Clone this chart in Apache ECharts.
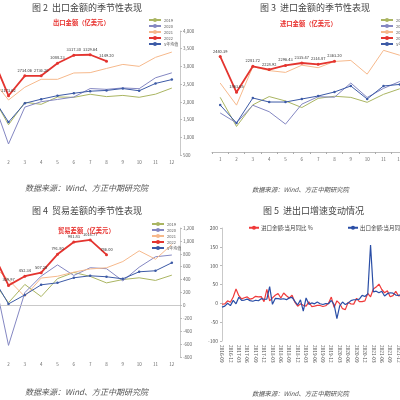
<!DOCTYPE html>
<html>
<head>
<meta charset="utf-8">
<script src="https://cdn.jsdelivr.net/npm/echarts@6/dist/echarts.min.js"></script>
<style>html,body{margin:0;padding:0;background:#fff}#main{width:400px;height:400px}</style>
</head>
<body>
<div id="main"></div>
<script>
// 月份（季节性图）
var months = ['1', '2', '3', '4', '5', '6', '7', '8', '9', '10', '11', '12'];
var yearNames = ['2019', '2020', '2021', '2022', '5年均值'];

// 图2 出口金额（亿美元）
var exp2019 = [2179, 1354, 1986, 1931, 2138, 2128, 2215, 2148, 2182, 2129, 2217, 2389];
var exp2020 = [2113, 811, 1852, 2004, 2068, 2136, 2376, 2353, 2393, 2372, 2680, 2819];
var exp2021 = [2638, 2052, 2413, 2637, 2636, 2815, 2825, 2943, 3057, 3002, 3256, 3405];
var exp2022 = [3273.60, 2173.62, 2734.06, 2736.20, 3088.23, 3317.30, 3329.64, 3149.20];
var expAvg = [2151, 1428, 1959, 2075, 2175, 2243, 2301, 2322, 2376, 2313, 2520, 2629];

// 图3 进口金额（亿美元）
var imp2019 = [1782, 1312, 1661, 1794, 1723, 1617, 1765, 1799, 1781, 1701, 1830, 1920];
var imp2020 = [1530, 1370, 1654, 1550, 1350, 1672, 1792, 1784, 2013, 1780, 1926, 2038];
var imp2021 = [2012, 1656, 2276, 2213, 2184, 2300, 2260, 2360, 2377, 2156, 2540, 2460];
var imp2022 = [2440.39, 1863.65, 2281.72, 2228.92, 2296.43, 2335.47, 2314.87, 2363.20];
var impAvg = [1658, 1368, 1771, 1706, 1706, 1755, 1803, 1868, 1965, 1755, 1965, 1990];

// 图4 贸易差额（亿美元）
var bal2019 = [397, 42, 325, 137, 415, 511, 450, 349, 401, 428, 387, 469];
var bal2020 = [583, -620, 198, 454, 628, 464, 584, 569, 380, 592, 754, 781];
var bal2021 = [626, 396, 137, 424, 452, 515, 565, 583, 680, 846, 716, 945];
var bal2022 = [833.21, 309.97, 452.34, 507.28, 791.80, 981.83, 1014.77, 786.00];
var balAvg = [450, 23, 163, 319, 350, 428, 459, 444, 412, 521, 537, 661];

// 图5 进出口当月同比（%）
var ymDates = [
    '2016-09', '2016-10', '2016-11', '2016-12',
    '2017-01', '2017-02', '2017-03', '2017-04', '2017-05', '2017-06', '2017-07', '2017-08', '2017-09', '2017-10', '2017-11', '2017-12',
    '2018-01', '2018-02', '2018-03', '2018-04', '2018-05', '2018-06', '2018-07', '2018-08', '2018-09', '2018-10', '2018-11', '2018-12',
    '2019-01', '2019-02', '2019-03', '2019-04', '2019-05', '2019-06', '2019-07', '2019-08', '2019-09', '2019-10', '2019-11', '2019-12',
    '2020-01', '2020-02', '2020-03', '2020-04', '2020-05', '2020-06', '2020-07', '2020-08', '2020-09', '2020-10', '2020-11', '2020-12',
    '2021-01', '2021-02', '2021-03', '2021-04', '2021-05', '2021-06', '2021-07', '2021-08', '2021-09', '2021-10', '2021-11', '2021-12',
    '2022-01', '2022-02', '2022-03', '2022-04', '2022-05', '2022-06', '2022-07', '2022-08'
];
var impYoY = [
    -1.9, -1.4, 6.7, 3.1,
    16.7, 38.1, 20.3, 11.9, 14.8, 17.2, 11.0, 13.3, 18.7, 17.2, 17.7, 4.5,
    36.9, 6.3, 14.4, 21.5, 26.0, 14.1, 27.3, 20.0, 14.3, 21.4, 3.0, -7.6,
    -1.5, -5.2, -7.6, 4.0, -8.5, -7.3, -5.6, -5.6, -8.5, -6.4, 0.3, 16.5,
    -10.8, 6.7, -0.9, -14.2, -16.7, 2.7, -1.4, -2.1, 13.2, 4.7, 4.5, 6.5,
    26.5, 17.3, 38.1, 43.1, 51.1, 36.7, 28.1, 33.1, 17.6, 20.6, 31.7, 19.5,
    21.3, 12.6, -0.1, 0.0, 4.1, 1.0, 2.3, 0.3
];
var expYoY = [
    -10.0, -7.3, 0.1, -6.1,
    7.9, -1.3, 16.4, 8.0, 8.7, 11.3, 7.2, 5.5, 8.1, 6.9, 12.3, 10.9,
    11.1, 44.5, -2.7, 12.9, 12.6, 11.3, 12.2, 9.8, 14.5, 15.6, 5.4, -4.4,
    9.1, -20.7, 14.2, -2.7, 1.1, -1.3, 3.3, -1.0, -3.2, -0.9, -1.1, 7.6,
    -3.3, -40.6, -6.6, 3.5, -3.3, 0.5, 7.2, 9.5, 9.9, 11.4, 21.1, 18.1,
    24.9, 154.9, 30.6, 32.3, 27.9, 32.2, 19.3, 25.6, 28.1, 27.1, 22.0, 20.9,
    24.1, 6.2, 14.7, 3.9, 16.9, 17.9, 18.0, 7.1
];

var colors = {
    '2019': '#aab562',
    '2020': '#8487c2',
    '2021': '#f6b98c',
    '2022': '#e4342f',
    '5年均值': '#3c5aa6'
};

var FONT = '"Noto Sans CJK SC", "Noto Sans", sans-serif';

function seasonLine(name, data, idx) {
    var s = {
        name: name,
        type: 'line',
        xAxisIndex: idx,
        yAxisIndex: idx,
        data: data,
        symbol: 'none',
        lineStyle: { color: colors[name], width: 1 },
        itemStyle: { color: colors[name] },
        z: 2
    };
    if (name == '2022') {
        s.symbol = 'circle';
        s.symbolSize = 3;
        s.lineStyle.width = 1.8;
        s.z = 5;
        s.label = {
            show: true, position: 'top', distance: 2,
            fontSize: 4, color: '#333', fontFamily: FONT,
            formatter: function (p) { return p.value.toFixed(2); }
        };
    }
    if (name == '5年均值') {
        s.symbol = 'circle';
        s.symbolSize = 2.5;
        s.z = 4;
    }
    return s;
}

function panelTitle(text, left, top) {
    return { text: text, left: left, top: top, padding: 0,
        textStyle: { fontSize: 9, fontWeight: 'normal', color: '#444', fontFamily: FONT } };
}
function redTitle(text, left, top) {
    return { text: text, left: left, top: top, padding: 0,
        textStyle: { fontSize: 6.3, fontWeight: 'bold', color: '#e8322f', fontFamily: FONT } };
}
function sourceText(left, top, size) {
    return { text: '数据来源：Wind、方正中期研究院', left: left, top: top, padding: 0,
        textStyle: { fontSize: size, fontStyle: 'italic', fontWeight: 'normal', color: '#555', fontFamily: FONT } };
}
function yearLegend(left, top) {
    return {
        data: yearNames, orient: 'vertical', left: left, top: top, padding: 0,
        itemWidth: 12, itemHeight: 5, itemGap: 2,
        textStyle: { fontSize: 4, color: '#555', fontFamily: FONT, padding: [0, 0, 0, -2] }
    };
}
function yoyLegend(name, left) {
    return {
        data: [name], left: left, top: 225, padding: 0,
        itemWidth: 10, itemHeight: 5,
        textStyle: { fontSize: 5.5, color: '#444', fontFamily: FONT, padding: [0, 0, 0, -3] }
    };
}
function monthAxis(idx, showLine) {
    return {
        type: 'category', gridIndex: idx, data: months,
        axisLine: { show: showLine, lineStyle: { color: '#aaa', width: 0.8 } },
        axisTick: { show: showLine, length: 2, lineStyle: { color: '#aaa' } },
        axisLabel: { fontSize: 4.5, color: '#666', margin: 5, fontFamily: FONT }
    };
}
function rightAxis(idx, min, max, interval) {
    return {
        type: 'value', gridIndex: idx, position: 'right', min: min, max: max, interval: interval,
        splitLine: { show: false },
        axisLine: { show: true, lineStyle: { color: '#bbb', width: 0.8 } },
        axisTick: { show: true, length: 2, lineStyle: { color: '#bbb' } },
        axisLabel: { fontSize: 4.5, color: '#666', margin: 3, fontFamily: FONT }
    };
}

var series = [];
[exp2019, exp2020, exp2021, expAvg, exp2022].forEach(function (d, i) {
    series.push(seasonLine(['2019', '2020', '2021', '5年均值', '2022'][i], d, 0));
});
[imp2019, imp2020, imp2021, impAvg, imp2022].forEach(function (d, i) {
    series.push(seasonLine(['2019', '2020', '2021', '5年均值', '2022'][i], d, 1));
});
[bal2019, bal2020, bal2021, balAvg, bal2022].forEach(function (d, i) {
    series.push(seasonLine(['2019', '2020', '2021', '5年均值', '2022'][i], d, 2));
});
// 零轴
series[10].markLine = {
    silent: true, symbol: 'none', label: { show: false },
    lineStyle: { color: '#bbb', width: 0.8, type: 'solid' },
    data: [{ yAxis: 0 }]
};
series.push({
    name: '进口金额:当月同比 %', type: 'line', xAxisIndex: 3, yAxisIndex: 3,
    data: impYoY, symbol: 'none', lineStyle: { color: '#f03a3a', width: 1.2 }, itemStyle: { color: '#f03a3a' }
});
series.push({
    name: '出口金额:当月同比 %', type: 'line', xAxisIndex: 3, yAxisIndex: 3,
    data: expYoY, symbol: 'none', lineStyle: { color: '#2a4ea6', width: 1.2 }, itemStyle: { color: '#2a4ea6' }
});

var option = {
    animation: false,
    backgroundColor: '#fff',
    textStyle: { fontFamily: FONT },
    title: [
        panelTitle('图 2  出口金额的季节性表现', 32, 3),
        redTitle('出口金额（亿美元）', 53, 19),
        panelTitle('图 3  进口金额的季节性表现', 260, 3),
        redTitle('进口金额（亿美元）', 280, 20),
        panelTitle('图 4  贸易差额的季节性表现', 32, 206),
        redTitle('贸易差额（亿美元）', 58, 227),
        panelTitle('图 5  进出口增速变动情况', 263, 206),
        sourceText(25, 184, 8),
        sourceText(252, 186, 6.3),
        sourceText(25, 388, 8),
        sourceText(252, 390, 6.3)
    ],
    legend: [
        yearLegend(148, 18),
        yearLegend(380, 18),
        yearLegend(151, 222),
        yoyLegend('进口金额:当月同比 %', 248),
        yoyLegend('出口金额:当月同比 %', 347)
    ],
    grid: [
        { left: -16, width: 196, top: 31, height: 124, outerBoundsMode: 'none', containLabel: false },
        { left: 212, width: 196, top: 28, height: 124, outerBoundsMode: 'none', containLabel: false },
        { left: -16, width: 196, top: 228, height: 129, outerBoundsMode: 'none', containLabel: false },
        { left: 222, width: 199, top: 228, height: 113, outerBoundsMode: 'none', containLabel: false }
    ],
    xAxis: [
        monthAxis(0, false),
        monthAxis(1, true),
        monthAxis(2, false),
        {
            type: 'category', gridIndex: 3, data: ymDates, boundaryGap: false,
            axisLine: { show: false }, axisTick: { show: false },
            axisLabel: { interval: 2, rotate: -90, fontSize: 4.8, color: '#555', margin: 4, fontFamily: FONT }
        }
    ],
    yAxis: [
        rightAxis(0, 500, 4000, 500),
        { type: 'value', gridIndex: 1, position: 'right', min: 900, max: 2900,
          splitLine: { show: false }, axisLine: { show: false }, axisLabel: { show: false }, axisTick: { show: false } },
        rightAxis(2, -800, 1200, 200),
        {
            type: 'value', gridIndex: 3, position: 'left', min: -100, max: 200, interval: 50,
            splitLine: { show: false },
            axisLine: { show: true, lineStyle: { color: '#bbb', width: 0.8 } },
            axisTick: { show: true, length: 2, lineStyle: { color: '#bbb' } },
            axisLabel: { fontSize: 5, color: '#555', margin: 4, fontFamily: FONT }
        }
    ],
    series: series
};

var myChart = echarts.init(document.getElementById('main'));
myChart.setOption(option);
</script>
</body>
</html>
